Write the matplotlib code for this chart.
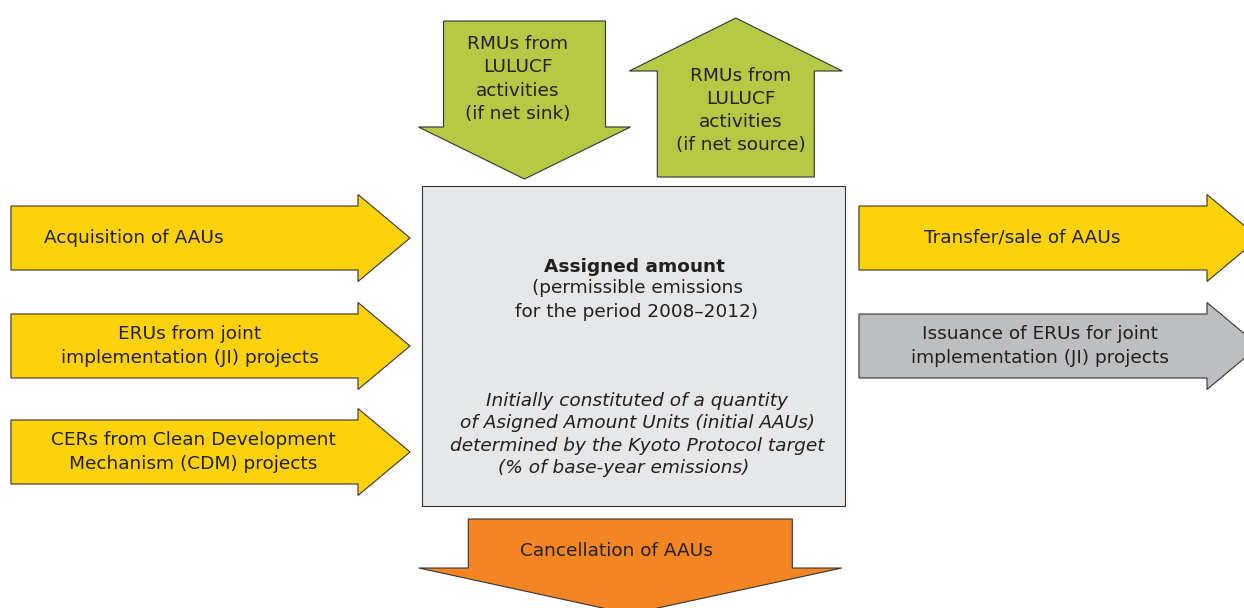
import matplotlib.pyplot as plt
from matplotlib.patches import Polygon, Rectangle

# ---------------------------------------------------------------- labels
LEFT_LABELS = [
    "Acquisition of AAUs",
    "ERUs from joint\nimplementation (JI) projects",
    "CERs from Clean Development\nMechanism (CDM) projects",
]
RIGHT_LABELS = [
    "Transfer/sale of AAUs",
    "Issuance of ERUs for joint\nimplementation (JI) projects",
]
SINK_LABEL = "RMUs from\nLULUCF\nactivities\n(if net sink)"
SOURCE_LABEL = "RMUs from\nLULUCF\nactivities\n(if net source)"
BOX_TITLE = "Assigned amount"
BOX_SUB = "(permissible emissions\nfor the period 2008\u20132012)"
BOX_NOTE = [
    "Initially constituted of a quantity",
    "of Asigned Amount Units (initial AAUs)",
    "determined by the Kyoto Protocol target",
    "(% of base-year emissions)",
]
CANCEL_LABEL = "Cancellation of AAUs"

# ---------------------------------------------------------------- style
YELLOW = "#fdd20a"
GREEN = "#b5c945"
ORANGE = "#f38523"
GREY_BOX = "#e6e7e8"
GREY_ARROW = "#bcbec0"
EDGE = "#333333"
TXT = "#231f20"
FS = 13.3
LS = 1.36

plt.rcParams["font.family"] = "DejaVu Sans"


def h_arrow(ax, x0, xb, xt, yc, body_h, head_h, color):
    """right-pointing block arrow: body from x0 to xb, tip at xt"""
    b, h = body_h / 2, head_h / 2
    pts = [(x0, yc - b), (xb, yc - b), (xb, yc - h), (xt, yc),
           (xb, yc + h), (xb, yc + b), (x0, yc + b)]
    ax.add_patch(Polygon(pts, closed=True, fc=color, ec=EDGE, lw=0.8))


def v_arrow(ax, xc, y0, yb, yt, body_w, head_w, color):
    """vertical block arrow: body from y0 to yb, tip at yt"""
    b, h = body_w / 2, head_w / 2
    pts = [(xc - b, y0), (xc - b, yb), (xc - h, yb), (xc, yt),
           (xc + h, yb), (xc + b, yb), (xc + b, y0)]
    ax.add_patch(Polygon(pts, closed=True, fc=color, ec=EDGE, lw=0.8))


fig = plt.figure(figsize=(12.44, 6.08), dpi=100)
ax = fig.add_axes([0, 0, 1, 1])
ax.set_xlim(0, 1244)
ax.set_ylim(608, 0)
ax.axis("off")

# left incoming arrows
left_y = [238, 346, 452]
left_tx = [134, 190, 193]
for lab, yc, tx in zip(LEFT_LABELS, left_y, left_tx):
    h_arrow(ax, 11, 358, 410, yc, 64, 87, YELLOW)
    ax.text(tx, yc, lab, ha="center", va="center", fontsize=FS, color=TXT,
            linespacing=LS)

# right outgoing arrows (tips run off the page)
right_y = [238, 346]
right_c = [YELLOW, GREY_ARROW]
right_tx = [1022, 1040]
for lab, yc, col, tx in zip(RIGHT_LABELS, right_y, right_c, right_tx):
    h_arrow(ax, 859, 1207, 1259, yc, 64, 87, col)
    ax.text(tx, yc, lab, ha="center", va="center", fontsize=FS, color=TXT,
            linespacing=LS)

# central box
ax.add_patch(Rectangle((422, 186), 423, 320, fc=GREY_BOX, ec=EDGE, lw=0.8))
ax.text(634, 267, BOX_TITLE, ha="center", va="center", fontsize=FS,
        weight="bold", color=TXT)
ax.text(637, 300, BOX_SUB, ha="center", va="center", fontsize=FS,
        color=TXT, linespacing=LS)
note_y = [401, 423.5, 446, 468]
note_x = [637, 637, 637, 624]
for line, ny, nx in zip(BOX_NOTE, note_y, note_x):
    ax.text(nx, ny, line, ha="center", va="center", fontsize=FS,
            style="italic", color=TXT)

# LULUCF arrows
v_arrow(ax, 524.5, 21, 127, 179, 162, 212, GREEN)
ax.text(518, 79, SINK_LABEL, ha="center", va="center", fontsize=FS,
        color=TXT, linespacing=LS)
v_arrow(ax, 735.8, 177, 71, 18, 157, 213, GREEN)
ax.text(741, 110.5, SOURCE_LABEL, ha="center", va="center", fontsize=FS,
        color=TXT, linespacing=LS)

# cancellation arrow
v_arrow(ax, 630.3, 519, 568, 614, 324, 423, ORANGE)
ax.text(616, 551, CANCEL_LABEL, ha="center", va="center", fontsize=FS,
        color=TXT)

fig.savefig("out.png", dpi=100, facecolor="white")
